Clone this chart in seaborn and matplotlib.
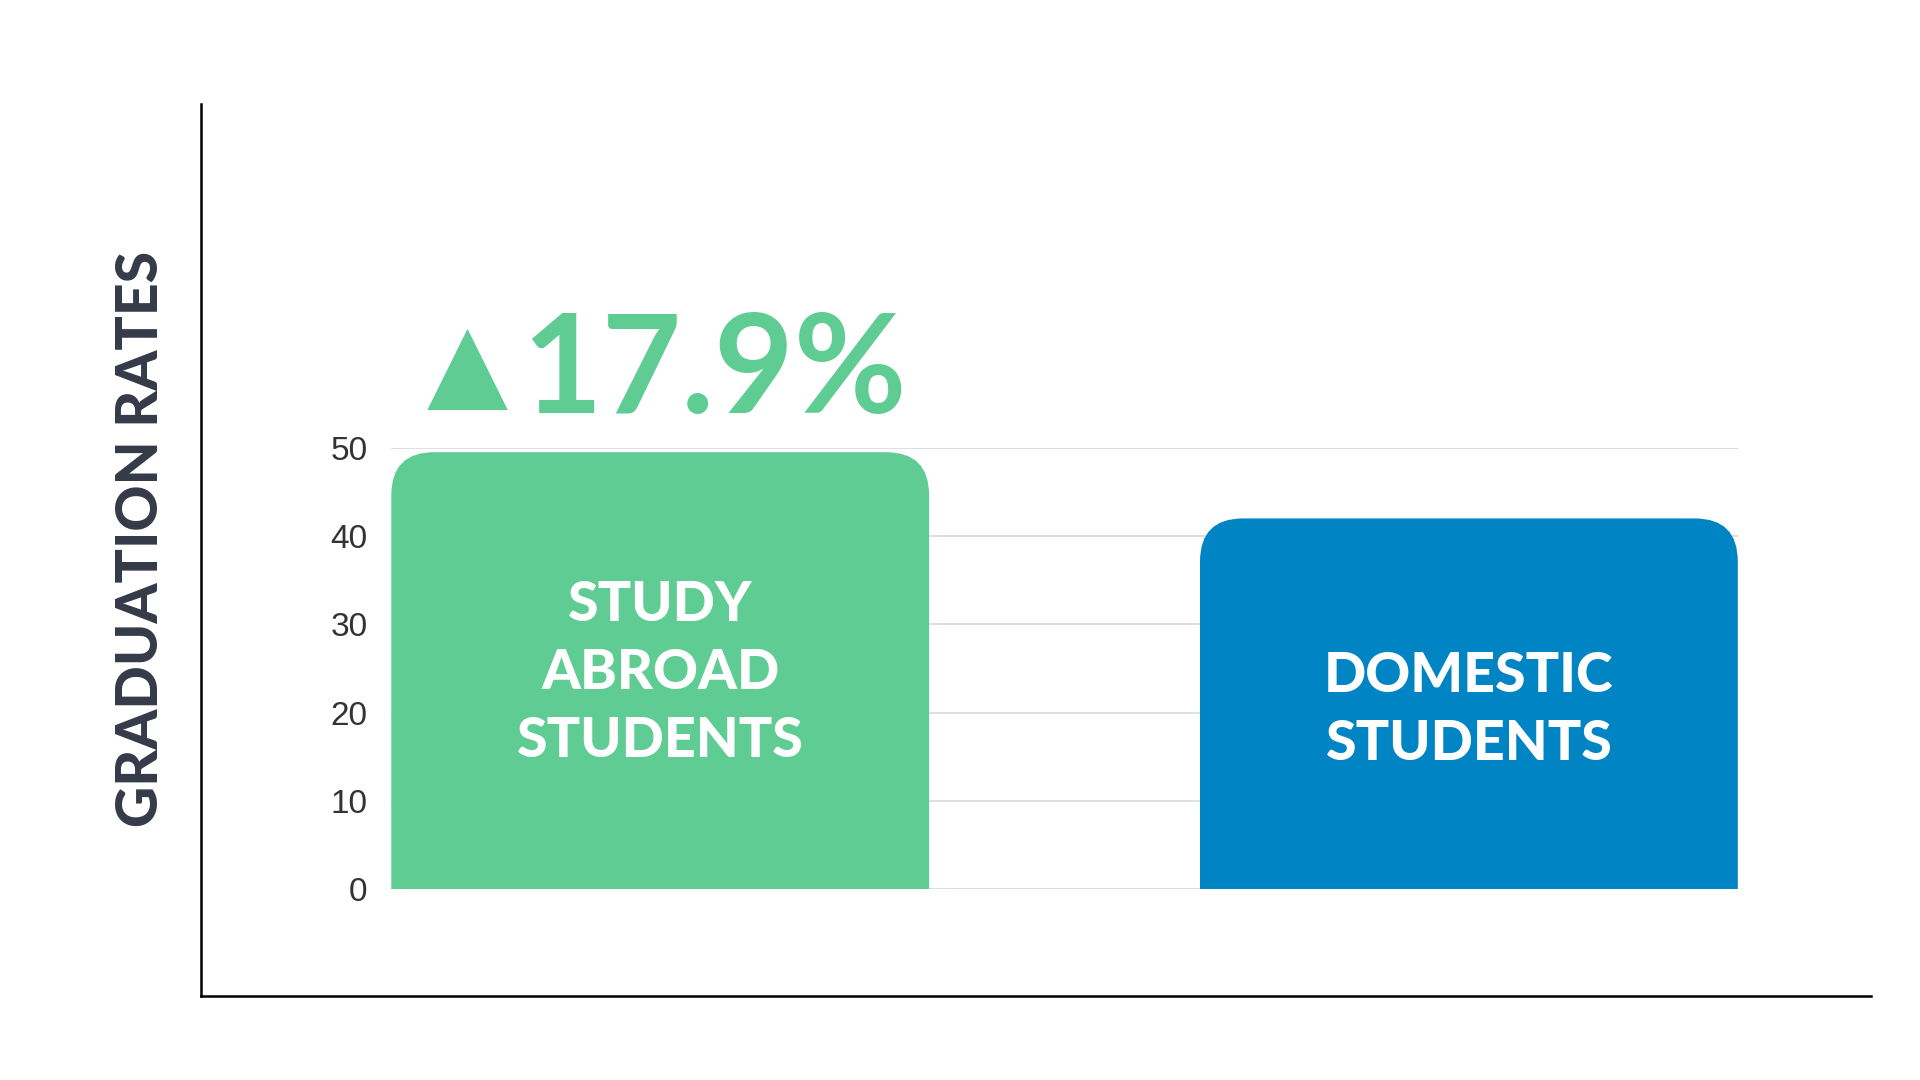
import matplotlib
matplotlib.use("Agg")
import matplotlib.pyplot as plt
from matplotlib.patches import FancyBboxPatch
import seaborn as sns
import pandas as pd

# --- data ---
categories = ["STUDY\nABROAD\nSTUDENTS", "DOMESTIC\nSTUDENTS"]
rates = [49.5, 42.0]
bar_colors = ["#5fcc93", "#0084c4"]
yticks = [0, 10, 20, 30, 40, 50]
label_y = [24.5, 20.3]   # where the in-bar labels sit

NAVY = "#353a48"
W = 0.665          # bar width (category units)
R_PX = 43          # corner radius in pixels

sns.set_style("white")
plt.rcParams["font.family"] = ["Lato", "DejaVu Sans"]

fig = plt.figure(figsize=(19.2, 10.8), dpi=100)

# outer L-shaped frame
frame = fig.add_axes([0.1045, 0.0774, 0.87, 0.826])
frame.set_xticks([])
frame.set_yticks([])
frame.patch.set_alpha(0)
for s in ["top", "right"]:
    frame.spines[s].set_visible(False)
for s in ["left", "bottom"]:
    frame.spines[s].set_color("black")
    frame.spines[s].set_linewidth(1.8)

# inner bar axes
ax = fig.add_axes([0.2038, 0.1765, 0.7013, 0.4089])
ax.patch.set_alpha(0)
df = pd.DataFrame({"group": categories, "rate": rates})
sns.barplot(data=df, x="group", y="rate", hue="group", palette=bar_colors,
            width=W, legend=False, ax=ax, zorder=2, saturation=1)
ax.set_xlim(-W / 2, 1 + W / 2)
ax.set_ylim(0, 50)

# swap plain bars for bars with rounded top corners
bbox = ax.get_window_extent()
px_x = bbox.width / (1 + W)
px_y = bbox.height / 50
rx = R_PX / px_x
ry = R_PX / px_y
for bar in list(ax.patches):
    x, w, h = bar.get_x(), bar.get_width(), bar.get_height()
    fb = FancyBboxPatch((x, -2 * ry), w, h + 2 * ry,
                        boxstyle=f"round,pad=0,rounding_size={rx}",
                        mutation_aspect=ry / rx,
                        fc=bar.get_facecolor(), ec="none", zorder=2)
    bar.remove()
    ax.add_patch(fb)

for i, (lab, yy) in enumerate(zip(categories, label_y)):
    ax.text(i, yy, lab, ha="center", va="center", color="white",
            fontsize=40, fontweight="black", linespacing=1.43, zorder=3)

ax.set_axisbelow(True)
ax.yaxis.grid(True, color="#dcdcdc", lw=1.3)
ax.set_yticks(yticks)
ax.set_yticklabels([str(t) for t in yticks], fontsize=24, color="#333333",
                   family=["Liberation Sans", "DejaVu Sans"])
ax.tick_params(axis="y", length=0, pad=17)
ax.set_xticks([])
ax.set_xlabel("")
ax.set_ylabel("")
for s in ax.spines.values():
    s.set_visible(False)

# difference callout
pct = (rates[0] - rates[1]) / rates[1] * 100
fig.text(0.2433, 0.632, "\u25b2", ha="center", va="baseline", color=bar_colors[0],
         fontsize=76, family=["DejaVu Sans"])
fig.text(0.272, 0.6173, f"{pct:.1f}%", ha="left", va="baseline", color=bar_colors[0],
         fontsize=99, fontweight="bold")

fig.text(0.0735, 0.501, "GRADUATION RATES", rotation=90, ha="center", va="center",
         fontsize=41, fontweight="black", color=NAVY)

fig.savefig("out.png", dpi=100)
